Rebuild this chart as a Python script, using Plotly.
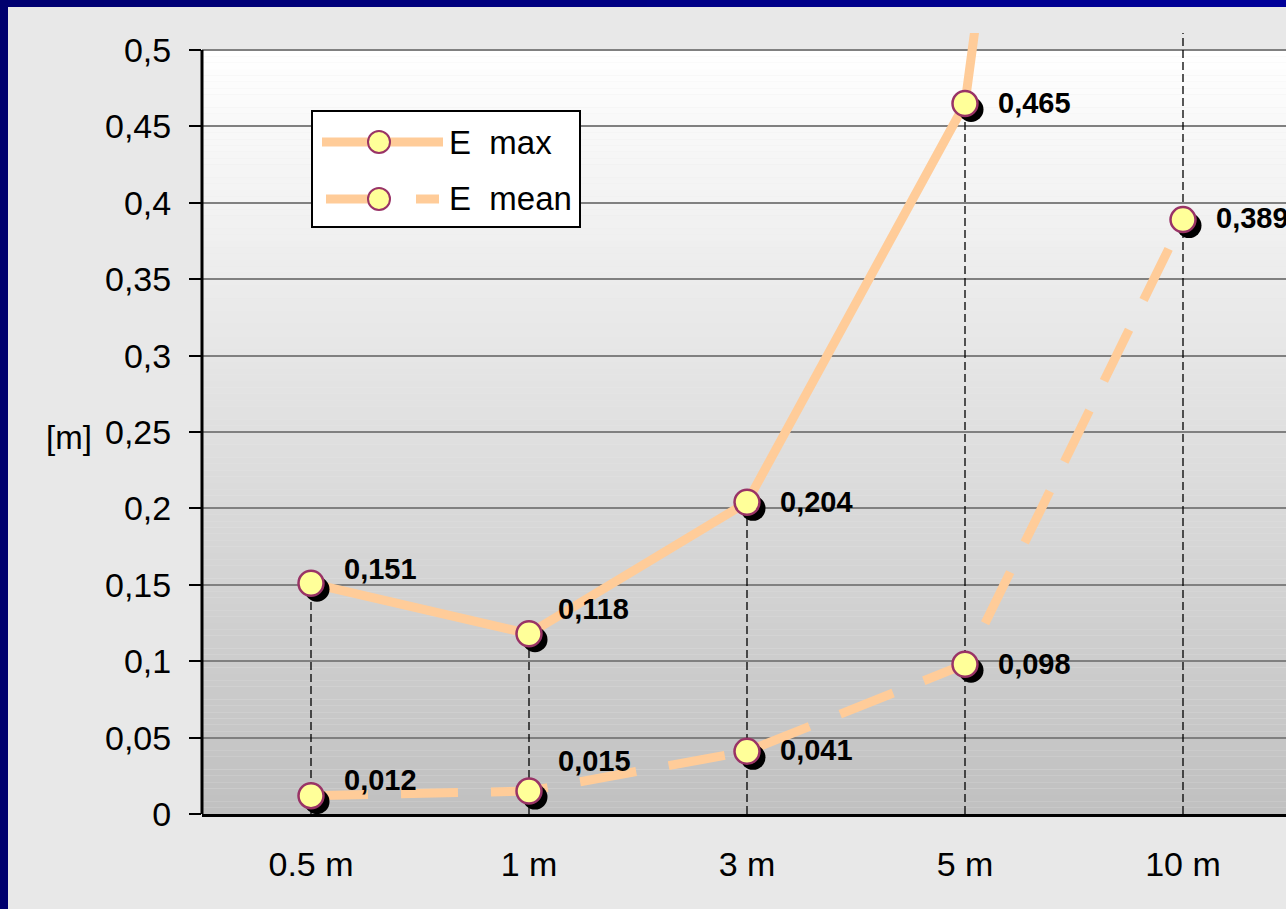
import plotly.graph_objects as go

# ---- data -------------------------------------------------------------
categories = ["0.5 m", "1 m", "3 m", "5 m", "10 m"]
e_max = [0.151, 0.118, 0.204, 0.465, 1.53]
e_mean = [0.012, 0.015, 0.041, 0.098, 0.389]
y_tick_values = [0, 0.05, 0.1, 0.15, 0.2, 0.25, 0.3, 0.35, 0.4, 0.45, 0.5]
y_tick_labels = ["0", "0,05", "0,1", "0,15", "0,2", "0,25", "0,3", "0,35", "0,4", "0,45", "0,5"]
y_axis_title = "[m]"
series_names = ["E max", "E mean"]

# ---- geometry / style ---------------------------------------------------
W, H = 1286, 909
PL, PR, PT, PB = 202, 1286, 33, 814      # plot box in pixels
Y_MAX_PX = 50                            # pixel row of the 0.5 gridline
CAT_PX = 218                             # pixels between categories
Y_AXIS_MAX = 0.5
y_range_top = Y_AXIS_MAX * (PB - PT) / (PB - Y_MAX_PX)
x_range = [-0.5, -0.5 + (PR - PL) / CAT_PX]
px_per_unit = (PB - Y_MAX_PX) / Y_AXIS_MAX

PEACH = "#ffcc99"
MARK_FILL = "#ffff99"
MARK_EDGE = "#993366"
BG = "#e8e8e8"
FONT = "Liberation Sans, Arial, sans-serif"
LINE_W = 9
MARK_SIZE = 25
SHADOW_DX, SHADOW_DY = 6, 6              # shadow offset in pixels

# label offsets (pixels) for each point: (xshift, yshift)
max_label_shift = [(31, 14), (27, 25), (31, 0), (31, 0), None]
mean_label_shift = [(31, 16), (27, 30), (31, 1), (31, 0), (31, 2)]


def px_x(x):
    return (x - PL) / (PR - PL)


def px_y(y):
    return (PB - y) / (PB - PT)


xs = list(range(len(categories)))

fig = go.Figure()

# vertical drop lines from the highest point of each category to the axis
drop_x, drop_y = [], []
for i in xs:
    drop_x += [i, i, None]
    drop_y += [0, max(e_max[i], e_mean[i]), None]
fig.add_trace(go.Scatter(x=drop_x, y=drop_y, mode="lines",
                         line=dict(color="black", width=1.3, dash="8px,4px"),
                         hoverinfo="skip", showlegend=False))

# series lines
fig.add_trace(go.Scatter(x=xs, y=e_max, mode="lines", name=series_names[0],
                         line=dict(color=PEACH, width=LINE_W), showlegend=False))
fig.add_trace(go.Scatter(x=xs, y=e_mean, mode="lines", name=series_names[1],
                         line=dict(color=PEACH, width=LINE_W, dash="57px,33px"),
                         showlegend=False))

# marker shadows
for vals in (e_max, e_mean):
    fig.add_trace(go.Scatter(
        x=[i + SHADOW_DX / CAT_PX for i in xs],
        y=[v - SHADOW_DY / px_per_unit for v in vals],
        mode="markers", marker=dict(size=MARK_SIZE, color="black"),
        hoverinfo="skip", showlegend=False))

# markers
for vals, name in zip((e_max, e_mean), series_names):
    fig.add_trace(go.Scatter(
        x=xs, y=vals, mode="markers", name=name,
        marker=dict(size=MARK_SIZE, color=MARK_FILL,
                    line=dict(color=MARK_EDGE, width=2.5)),
        showlegend=False))

# value labels
annotations = []
for vals, shifts in ((e_max, max_label_shift), (e_mean, mean_label_shift)):
    for i, v in enumerate(vals):
        if v > Y_AXIS_MAX or shifts is None or shifts[i] is None:
            continue
        dx, dy = shifts[i]
        annotations.append(dict(
            x=i, y=v, xref="x", yref="y", text="<b>%s</b>" % f"{v:.3f}".replace(".", ","),
            showarrow=False, xanchor="left", yanchor="middle", xshift=dx, yshift=dy,
            font=dict(family=FONT, size=29, color="black")))

# axis title
annotations.append(dict(x=px_x(44), y=px_y(437), xref="paper", yref="paper",
                        text=y_axis_title, showarrow=False, xanchor="left",
                        yanchor="middle", font=dict(family=FONT, size=33, color="black")))

# legend text (a wider gap after the "E")
for name, ly in zip(series_names, (142, 199)):
    annotations.append(dict(x=px_x(447), y=px_y(ly), xref="paper", yref="paper",
                            text=name.replace(" ", "\u00a0 "), showarrow=False,
                            xanchor="left", yanchor="middle",
                            font=dict(family=FONT, size=33, color="black")))

shapes = []

# vertical gradient behind the plot (white at top to grey at bottom)
N_BANDS = 120
for k in range(N_BANDS):
    t = (k + 0.5) / N_BANDS          # 0 at bottom, 1 at top
    c = int(round(192 + (255 - 192) * t))
    shapes.append(dict(type="rect", xref="paper", yref="y", x0=0, x1=1,
                       y0=Y_AXIS_MAX * k / N_BANDS, y1=Y_AXIS_MAX * (k + 1) / N_BANDS,
                       fillcolor=f"rgb({c},{c},{c})", line=dict(width=0), layer="below"))

# y axis line from 0 to 0.5
shapes.append(dict(type="line", xref="paper", yref="y", x0=0, x1=0, y0=0, y1=Y_AXIS_MAX,
                   line=dict(color="black", width=3), layer="above"))

# legend box
shapes.append(dict(type="rect", xref="paper", yref="paper",
                   x0=px_x(312), x1=px_x(580), y0=px_y(227), y1=px_y(111),
                   fillcolor="white", line=dict(color="black", width=2), layer="above"))
shapes.append(dict(type="line", xref="paper", yref="paper", x0=px_x(322), x1=px_x(443),
                   y0=px_y(142), y1=px_y(142), line=dict(color=PEACH, width=LINE_W),
                   layer="above"))
shapes.append(dict(type="line", xref="paper", yref="paper", x0=px_x(326), x1=px_x(376),
                   y0=px_y(199), y1=px_y(199), line=dict(color=PEACH, width=LINE_W),
                   layer="above"))
shapes.append(dict(type="line", xref="paper", yref="paper", x0=px_x(416), x1=px_x(439),
                   y0=px_y(199), y1=px_y(199), line=dict(color=PEACH, width=LINE_W),
                   layer="above"))
for ly in (142, 199):
    shapes.append(dict(type="circle", xref="paper", yref="paper",
                       xsizemode="pixel", ysizemode="pixel",
                       xanchor=px_x(379), yanchor=px_y(ly),
                       x0=-11, x1=11, y0=-11, y1=11,
                       fillcolor=MARK_FILL, line=dict(color=MARK_EDGE, width=2),
                       layer="above"))

# navy frame on the left and top
shapes.append(dict(type="rect", xref="paper", yref="paper",
                   x0=px_x(-2), x1=px_x(8), y0=px_y(H + 2), y1=px_y(-2),
                   fillcolor="#00006e", line=dict(width=0), layer="above"))
N_TOP = 40
for k in range(N_TOP):
    xa = 8 + (W - 8) * k / N_TOP
    xb = 8 + (W - 8) * (k + 1) / N_TOP + 1
    t = (k + 0.5) / N_TOP
    b = int(round(0x70 + (0x9a - 0x70) * t))
    shapes.append(dict(type="rect", xref="paper", yref="paper",
                       x0=px_x(xa), x1=px_x(xb), y0=px_y(7), y1=px_y(-2),
                       fillcolor=f"rgb(0,0,{b})", line=dict(width=0), layer="above"))

fig.update_layout(
    width=W, height=H,
    margin=dict(l=PL, r=W - PR, t=PT, b=H - PB, pad=0),
    paper_bgcolor=BG, plot_bgcolor=BG,
    showlegend=False,
    xaxis=dict(range=x_range, tickmode="array", tickvals=xs, ticktext=categories,
               showgrid=False, zeroline=False, ticks="",
               showline=True, linecolor="black", linewidth=3,
               ticklabelstandoff=18,
               tickfont=dict(family=FONT, size=34, color="black"), fixedrange=True),
    yaxis=dict(range=[0, y_range_top], tickmode="array", tickvals=y_tick_values,
               ticktext=y_tick_labels, showgrid=True, gridcolor="#808080", gridwidth=2,
               zeroline=False, showline=False,
               ticks="outside", ticklen=12, tickwidth=2, tickcolor="black",
               ticklabelstandoff=11,
               tickfont=dict(family=FONT, size=34, color="black"), fixedrange=True),
    annotations=annotations,
    shapes=shapes,
)

fig.write_html("out.html")
